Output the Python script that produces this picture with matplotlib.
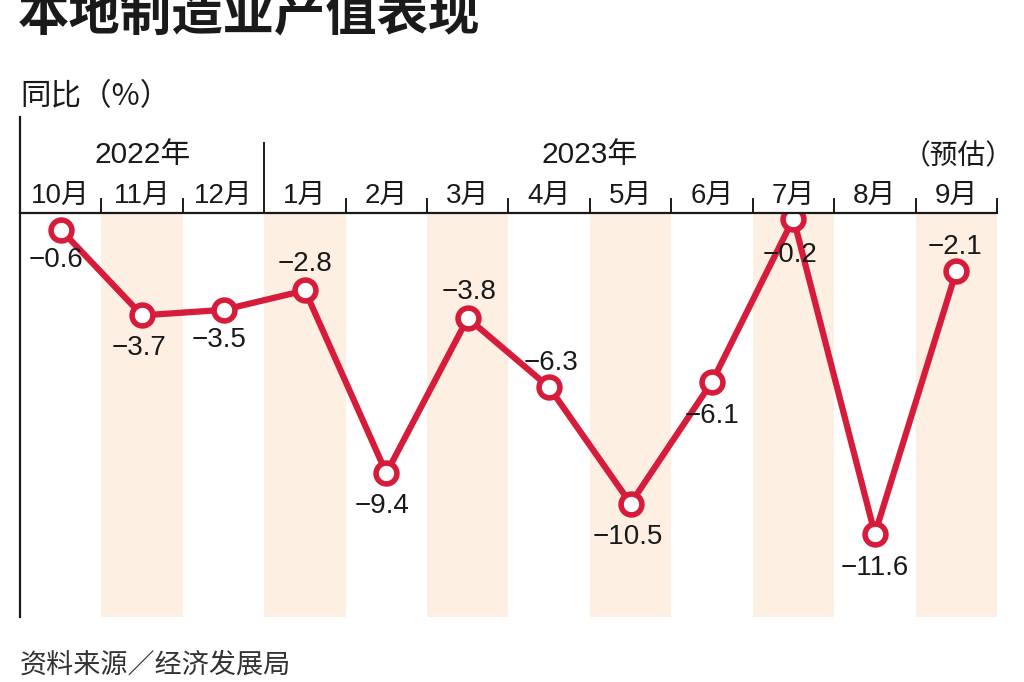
import matplotlib
matplotlib.use("Agg")
import matplotlib.pyplot as plt
import matplotlib.transforms as mtransforms

plt.rcParams['font.family'] = ['Liberation Sans', 'Noto Sans CJK SC', 'DejaVu Sans']

# ---- data ----
months = ["10月", "11月", "12月", "1月", "2月", "3月", "4月", "5月", "6月", "7月", "8月", "9月"]
values = [-0.6, -3.7, -3.5, -2.8, -9.4, -3.8, -6.3, -10.5, -6.1, -0.2, -11.6, -2.1]
years = ["2022年", "2023年"]
title = "本地制造业产值表现"
ylabel = "同比（%）"
estimate = "（预估）"
source = "资料来源／经济发展局"

# label offsets (screen px: dx right, dy down from point to label centre)
label_off = [(-5, 27), (-3.5, 30), (-4, 27), (0, -29), (-4.5, 30), (1, -29),
             (2, -27), (-3, 30), (0, 31), (-3, 33), (0, 31), (-1.5, -27)]

W, H = 1024, 682
RED = '#d61c3a'
SHADE = '#fdf0e3'
INK = '#1a1a1a'

fig = plt.figure(figsize=(W / 100, H / 100), dpi=100)
ax_left, ax_right, ax_top, ax_bot = 20, 997, 213, 617
ax = fig.add_axes([ax_left / W, 1 - ax_bot / H, (ax_right - ax_left) / W, (ax_bot - ax_top) / H])
n = len(months)
ax.set_xlim(-0.5, n - 0.5)
ax.set_ylim(-14.6, 0.0)
ax.axis('off')

for i in range(n):
    if i % 2 == 1:
        ax.axvspan(i - 0.5, i + 0.5, color=SHADE, lw=0, zorder=0)

xs = list(range(n))
ax.plot(xs, values, color=RED, lw=4.5, zorder=3, solid_joinstyle='round')
ax.plot(xs, values, ls='none', marker='o', ms=15.0, mew=4.0, mec=RED, mfc='white', zorder=4)

axh = ax_bot - ax_top
# axis lines
ax.plot([0, 1], [1, 1], transform=ax.transAxes, color=INK, lw=1.6, clip_on=False, zorder=5)
ax.plot([0, 0], [0, 1 + (ax_top - 117) / axh], transform=ax.transAxes, color=INK, lw=1.6,
        clip_on=False, zorder=5)
blend_tick = mtransforms.blended_transform_factory(ax.transData, ax.transAxes)
for i in range(n):
    b = i + 0.5
    top = 1 + (ax_top - 143) / axh if i == 2 else 1 + 14 / axh
    ax.plot([b, b], [1, top], transform=blend_tick, color=INK, lw=1.4, clip_on=False, zorder=5)

# value labels
for x, v, (dx, dy) in zip(xs, values, label_off):
    txt = f"{v:.1f}".replace('-', '−')
    ax.annotate(txt, (x, v), xytext=(dx * 0.72, -(dy + 10) * 0.72), textcoords='offset points',
                ha='center', va='baseline', fontsize=20, color=INK, zorder=6)

blend = mtransforms.blended_transform_factory(ax.transData, fig.transFigure)
for i, m in enumerate(months):
    ax.text(i, 1 - 203 / H, m, transform=blend, ha='center', va='baseline', fontsize=20, color=INK)
ax.text(1, 1 - 163 / H, years[0], transform=blend, ha='center', va='baseline', fontsize=21.5, color=INK)
ax.text(6.5, 1 - 163 / H, years[1], transform=blend, ha='center', va='baseline', fontsize=21.5, color=INK)
ax.text(11.02, 1 - 164 / H, estimate, transform=blend, ha='center', va='baseline', fontsize=20,
        color=INK, family=['Noto Sans CJK SC', 'DejaVu Sans'])

fig.text(20 / W, 1 - 105 / H, ylabel, ha='left', va='baseline', fontsize=22, color=INK,
         family=['Noto Sans CJK SC', 'DejaVu Sans'])
fig.text(18 / W, 1 - 29.5 / H, title, ha='left', va='baseline', fontsize=37, fontweight='bold',
         color=INK, family=['Noto Sans CJK SC', 'DejaVu Sans'])
fig.text(20 / W, 1 - 673 / H, source, ha='left', va='baseline', fontsize=19.5, color='#333333',
         family=['Noto Sans CJK SC', 'DejaVu Sans'])

fig.savefig('out.png', dpi=100)
